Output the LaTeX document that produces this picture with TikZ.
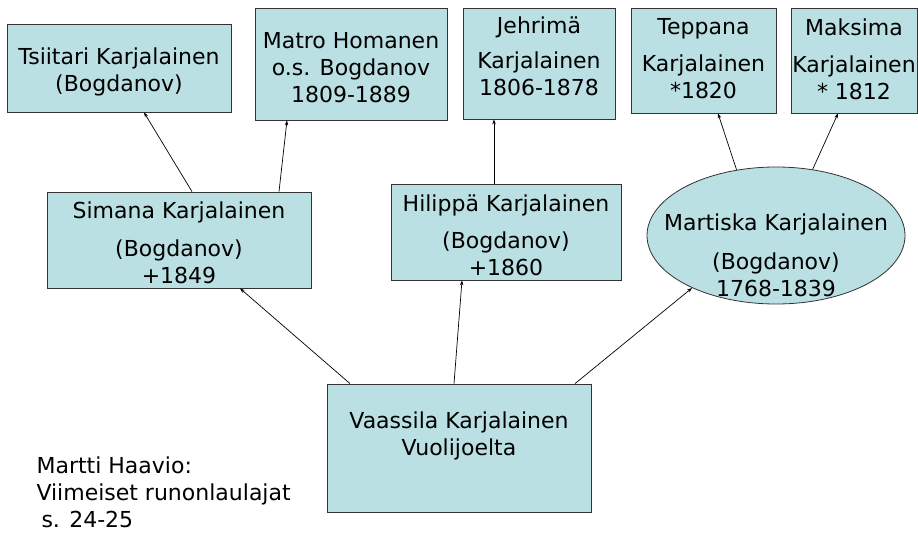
\documentclass[tikz,border=0pt]{standalone}
\usepackage{fontspec}
\setmainfont{DejaVu Sans}
\usetikzlibrary{shapes.geometric,arrows.meta}
\definecolor{famblue}{HTML}{BBE0E3}

\begin{document}
\begin{tikzpicture}[x=1pt,y=-1pt]
    \useasboundingbox (0,0) rectangle (918,534);

    \begin{scope}[every node/.style={draw=black!80,fill=famblue,line width=0.8pt,inner sep=0pt}]
        \node [minimum width=224,minimum height=88] (Ts) at (119,68) {};
        \node [minimum width=192,minimum height=112] (Mt) at (351,64) {};
        \node [minimum width=152,minimum height=111] (Je) at (539,63.5) {};
        \node [minimum width=145,minimum height=105] (Te) at (703.5,60.5) {};
        \node [minimum width=126,minimum height=105] (Mk) at (854,60.5) {};
        \node [minimum width=264,minimum height=96] (Si) at (179,240) {};
        \node [minimum width=230,minimum height=96] (Hi) at (506,232) {};
        \node [ellipse,minimum width=258,minimum height=137] (Mr) at (776,235.5) {};
        \node [minimum width=264,minimum height=128] (Va) at (459,448) {};
    \end{scope}
    \begin{scope}[every node/.style={align=center,font=\fontsize{22}{27}\selectfont}]
        \node (TsText) at (119,71.5) {Tsiitari Karjalainen\\(Bogdanov)};
        \node (MtText) at (351,67.5) {Matro Homanen\\o.s. Bogdanov\\1809-1889};
        \node (JeText) at (539,56.5) {Jehrimä\\[8pt]Karjalainen\\1806-1878};
        \node (TeText) at (703.5,59) {Teppana\\[10pt]Karjalainen\\{}*1820};
        \node (MkText) at (854,59) {Maksima\\[10pt]Karjalainen\\{}* 1812};
        \node (SiText) at (179,242.5) {Simana Karjalainen\\[11pt](Bogdanov)\\+1849};
        \node (HiText) at (506,235) {Hilippä Karjalainen\\[10pt](Bogdanov)\\+1860};
        \node (MrText) at (776,255.5) {Martiska Karjalainen\\[12pt](Bogdanov)\\1768-1839};
        \node (VaText) at (459,436) {Vaassila Karjalainen\\Vuolijoelta};
        \node [align=left,anchor=west] (Source) at (33,492.5) {Martti Haavio:\\Viimeiset runonlaulajat\\\hspace*{5pt}s. 24-25};
    \end{scope}
    \begin{scope}[every path/.style={-{Stealth[length=5pt,width=3.5pt]},line width=0.7pt}]
        \path ([xshift=13pt]Si.north) edge ([xshift=25pt]Ts.south);
        \path ([xshift=100pt]Si.north) edge ([xshift=-64pt]Mt.south);
        \path ([xshift=-12pt]Hi.north) edge ([xshift=-45pt]Je.south);
        \path (Mr.121) edge ([xshift=14.5pt]Te.south);
        \path (Mr.61) edge ([xshift=-16pt]Mk.south);
        \path ([xshift=-109pt]Va.north) edge ([xshift=61pt]Si.south);
        \path ([xshift=-5pt]Va.north) edge ([xshift=-44pt]Hi.south);
        \path ([xshift=116pt]Va.north) edge (Mr.212);
    \end{scope}
\end{tikzpicture}
\end{document}
